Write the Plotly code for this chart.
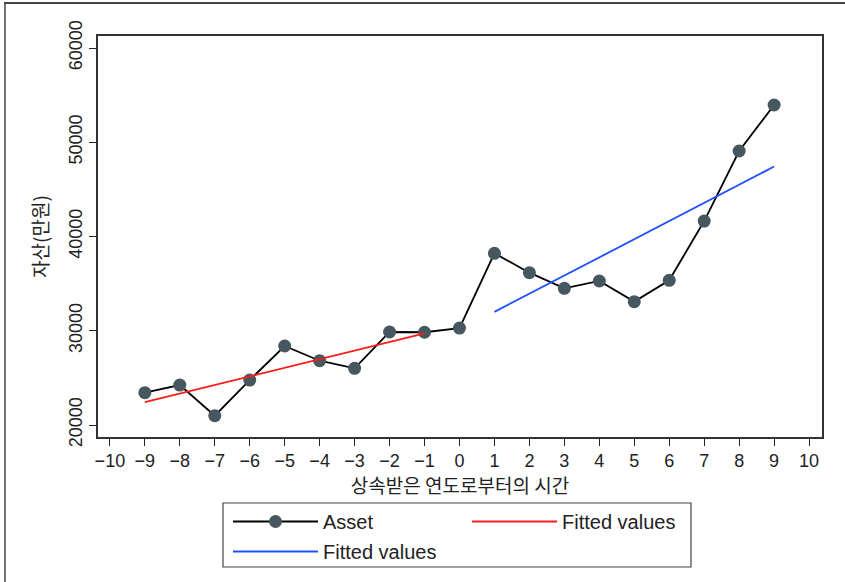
import plotly.graph_objects as go

# ---- data ----
years = [-9, -8, -7, -6, -5, -4, -3, -2, -1, 0, 1, 2, 3, 4, 5, 6, 7, 8, 9]
asset = [23430, 24240, 20990, 24770, 28380, 26820, 26010, 29870, 29840, 30280,
         38220, 36160, 34500, 35280, 33090, 35350, 41640, 49070, 53950]
fit_pre_x = [-9, -1]
fit_pre_y = [22420, 29720]
fit_post_x = [1, 9]
fit_post_y = [32000, 47420]
x_ticks = list(range(-10, 11))
y_ticks = [20000, 30000, 40000, 50000, 60000]

FONT = "Liberation Sans, Arial, Noto Sans CJK KR, sans-serif"
KFONT = "Noto Sans CJK KR, Liberation Sans, sans-serif"

fig = go.Figure()
fig.add_trace(go.Scatter(
    x=years, y=asset, mode="lines+markers", name="Asset",
    line=dict(color="#000000", width=1.8),
    marker=dict(color="#46575f", size=13, line=dict(width=0)),
    legend="legend"))
fig.add_trace(go.Scatter(
    x=fit_pre_x, y=fit_pre_y, mode="lines", name="Fitted values",
    line=dict(color="#ff1a1a", width=1.8), legend="legend"))
fig.add_trace(go.Scatter(
    x=fit_post_x, y=fit_post_y, mode="lines", name="Fitted values",
    line=dict(color="#1f4fff", width=1.8), legend="legend2"))

L, R, T, B = 98, 23, 36, 145
W, H = 845, 582
pw, ph = W - L - R, H - T - B

def px(xp):
    return (xp - L) / pw

def py(yp):
    return (H - B - yp) / ph

fig.update_layout(
    width=W, height=H,
    margin=dict(l=L, r=R, t=T, b=B, autoexpand=False),
    paper_bgcolor="white", plot_bgcolor="white",
    font=dict(family=FONT, size=18, color="#222222"),
    showlegend=True,
    legend=dict(orientation="h", x=px(228), y=py(502), xanchor="left", yanchor="top",
                entrywidth=139, entrywidthmode="pixels", itemwidth=85,
                font=dict(family=FONT, size=20, color="#222222"),
                bgcolor="rgba(0,0,0,0)", traceorder="normal"),
    legend2=dict(orientation="h", x=px(228), y=py(532), xanchor="left", yanchor="top",
                 itemwidth=85,
                 font=dict(family=FONT, size=20, color="#222222"),
                 bgcolor="rgba(0,0,0,0)"),
    xaxis=dict(range=[-10.34, 10.37], tickvals=x_ticks, ticks="outside", ticklen=7,
               tickwidth=1.3, tickcolor="#222222", showgrid=False, zeroline=False,
               showline=True, linecolor="#333333", linewidth=1.5, mirror=True,
               tickfont=dict(family=FONT, size=18),
               title=dict(text="상속받은 연도로부터의 시간", standoff=6,
                          font=dict(family=KFONT, size=19))),
    yaxis=dict(range=[18727, 61273], tickvals=y_ticks, tickformat="d",
               ticks="outside", ticklen=7,
               tickwidth=1.3, tickcolor="#222222", showgrid=False, zeroline=False,
               showline=True, linecolor="#333333", linewidth=1.5, mirror=True,
               tickangle=-90, tickfont=dict(family=FONT, size=18),
               title=dict(text="자산(만원)", standoff=12,
                          font=dict(family=KFONT, size=19))),
    shapes=[
        # legend box
        dict(type="rect", xref="paper", yref="paper",
             x0=px(223), x1=px(691), y0=py(567), y1=py(503),
             line=dict(color="#444444", width=1.2), fillcolor="rgba(0,0,0,0)"),
        # outer frame (top and left edges)
        dict(type="line", xref="paper", yref="paper",
             x0=px(4), x1=px(845), y0=py(3), y1=py(3),
             line=dict(color="#444444", width=2)),
        dict(type="line", xref="paper", yref="paper",
             x0=px(5), x1=px(5), y0=py(3), y1=py(582),
             line=dict(color="#444444", width=1.5)),
    ],
)

fig.write_html("out.html", config={"displayModeBar": False},
               post_script="document.body.style.margin='0';")
